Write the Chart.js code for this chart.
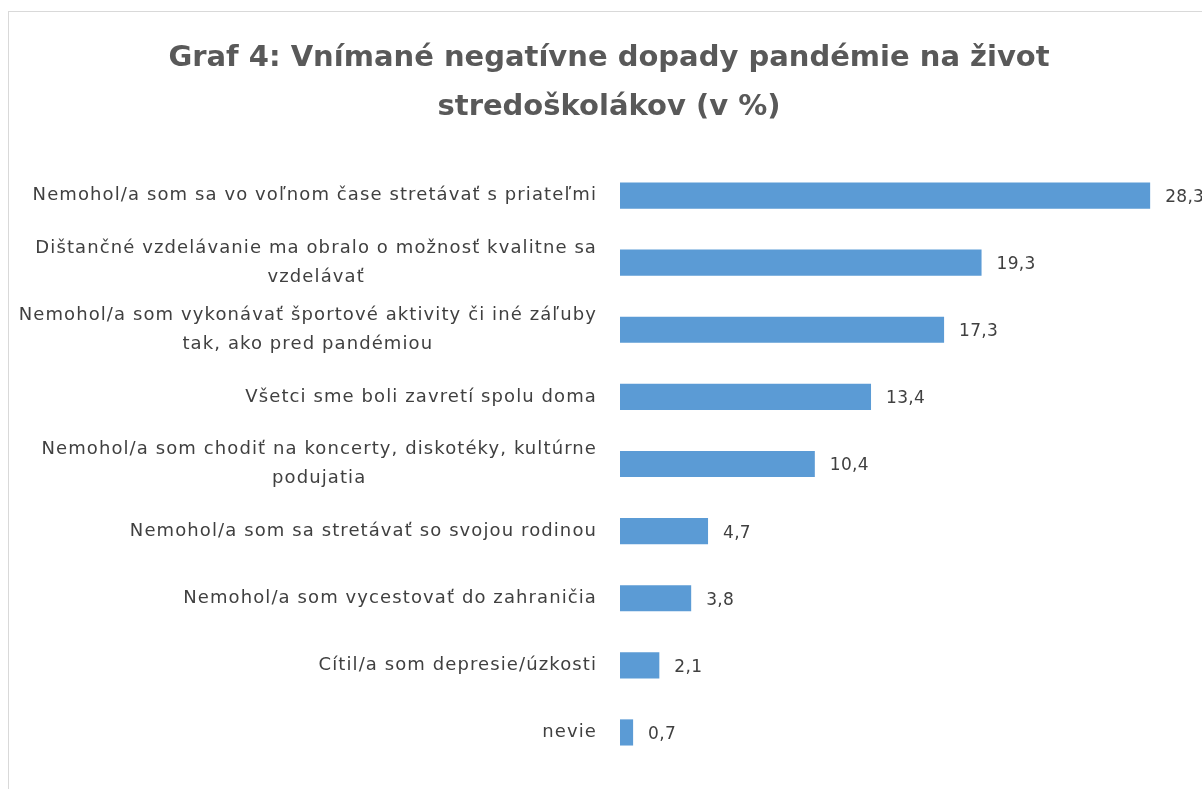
<!DOCTYPE html>
<html>
  <head>
    <meta charset="utf-8" />
    <title>Graf 4: Vnímané negatívne dopady pandémie na život stredoškolákov</title>
    <script src="https://cdn.jsdelivr.net/npm/chart.js@4"></script>
    <style>
      body { margin: 0; background: #fff; overflow: hidden; }
      #frame {
        position: absolute; left: 8px; top: 11px;
        width: 1230px; height: 820px;
        border: 1px solid #d9d9d9; border-right: none; border-bottom: none;
      }
    </style>
  </head>
  <body>
    <div id="frame">
      <canvas id="negativeImpactCanvas" width="1200" height="800"></canvas>
    </div>
    <script>
      const titleLines = [
        "Graf 4: Vnímané negatívne dopady pandémie na život",
        "stredoškolákov (v %)",
      ];
      const categories = [
        ["Nemohol/a som sa vo voľnom čase stretávať s priateľmi"],
        ["Dištančné vzdelávanie ma obralo o možnosť kvalitne sa", "vzdelávať"],
        ["Nemohol/a som vykonávať športové aktivity či iné záľuby", "tak, ako pred pandémiou"],
        ["Všetci sme boli zavretí spolu doma"],
        ["Nemohol/a som chodiť na koncerty, diskotéky, kultúrne", "podujatia"],
        ["Nemohol/a som sa stretávať so svojou rodinou"],
        ["Nemohol/a som vycestovať do zahraničia"],
        ["Cítil/a som depresie/úzkosti"],
        ["nevie"],
      ];
      const percentages = [28.3, 19.3, 17.3, 13.4, 10.4, 4.7, 3.8, 2.1, 0.7];

      const textFont = '"DejaVu Sans", sans-serif';
      const textColor = "#404040";

      // title, category labels (wrapped lines centred on each other) and value labels
      const labelPlugin = {
        id: "labelPlugin",
        afterDatasetsDraw(chart) {
          const ctx = chart.ctx;
          const area = chart.chartArea;
          const yScale = chart.scales.y;
          const xScale = chart.scales.x;
          ctx.save();
          ctx.textBaseline = "middle";
          ctx.textAlign = "center";

          ctx.fillStyle = "#595959";
          ctx.font = "bold 29px " + textFont;
          ctx.letterSpacing = "0px";
          titleLines.forEach((l, j) => ctx.fillText(l, chart.width / 2, 46 + j * 49));

          ctx.fillStyle = textColor;
          ctx.font = "18px " + textFont;
          ctx.letterSpacing = "1.1px";
          const lineHeight = 29;
          categories.forEach((lines, i) => {
            const y = yScale.getPixelForValue(i);
            const maxW = Math.max(...lines.map((l) => ctx.measureText(l).width));
            const cx = area.left - 23 - maxW / 2;
            const top = y - ((lines.length - 1) * lineHeight) / 2;
            lines.forEach((l, j) => ctx.fillText(l, cx, top + j * lineHeight));
          });

          ctx.font = "17px " + textFont;
          ctx.letterSpacing = "0.3px";
          ctx.textAlign = "left";
          percentages.forEach((v, i) => {
            const y = yScale.getPixelForValue(i);
            const x = xScale.getPixelForValue(v);
            ctx.fillText(v.toFixed(1).replace(".", ","), x + 15, y + 2);
          });
          ctx.restore();
        },
      };

      new Chart(document.getElementById("negativeImpactCanvas"), {
        type: "bar",
        data: {
          labels: categories.map((c) => c.join(" ")),
          datasets: [
            {
              data: percentages,
              backgroundColor: "#5b9bd5",
              borderWidth: 0,
              categoryPercentage: 1,
              barPercentage: 0.39,
            },
          ],
        },
        options: {
          indexAxis: "y",
          responsive: false,
          animation: false,
          layout: { padding: { left: 611, right: 27, top: 150, bottom: 46 } },
          plugins: {
            legend: { display: false },
            tooltip: { enabled: false },
            title: { display: false },
          },
          scales: {
            x: { display: false, min: 0, max: 30 },
            y: { display: false },
          },
        },
        plugins: [labelPlugin],
      });
    </script>
  </body>
</html>
